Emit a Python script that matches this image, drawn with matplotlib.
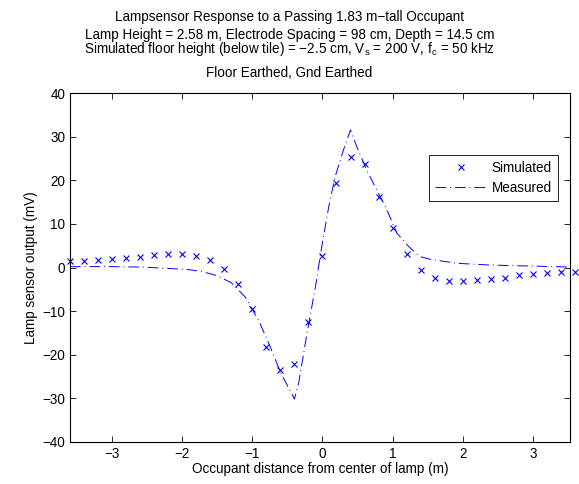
import numpy as np
import matplotlib
matplotlib.use('Agg')
import matplotlib.pyplot as plt

plt.rcParams['font.family'] = ['Liberation Sans', 'DejaVu Sans']
plt.rcParams['axes.unicode_minus'] = True

# Simulated lamp sensor output (every 0.2 m)
sim_x = [-3.6, -3.4, -3.2, -3.0, -2.8, -2.6, -2.4, -2.2, -2.0, -1.8, -1.6, -1.4, -1.2,
         -1.0, -0.8, -0.6, -0.4, -0.2, 0.0, 0.2, 0.4, 0.6, 0.8, 1.0, 1.2, 1.4, 1.6,
         1.8, 2.0, 2.2, 2.4, 2.6, 2.8, 3.0, 3.2, 3.4, 3.6]
sim_y = [1.5, 1.5, 1.7, 1.9, 2.1, 2.3, 2.8, 3.0, 3.0, 2.6, 1.7, -0.3, -3.9,
         -9.5, -18.3, -23.5, -22.2, -12.4, 2.6, 19.5, 25.4, 23.8, 16.3, 9.0, 3.0, -0.6, -2.5,
         -3.1, -3.2, -2.9, -2.6, -2.3, -1.8, -1.6, -1.3, -1.0, -1.0]

# Measured lamp sensor output
meas_x = [-3.6, -3.0, -2.6, -2.2, -1.9, -1.7, -1.5, -1.3, -1.1, -0.9, -0.75, -0.6, -0.4,
          -0.34, -0.22, -0.1, -0.01, 0.09, 0.18, 0.3, 0.4, 0.49, 0.63, 0.8, 0.92, 1.06,
          1.13, 1.23, 1.39, 1.53, 1.92, 2.39, 2.77, 3.2, 3.53]
meas_y = [0.2, 0.2, 0.1, -0.2, -0.5, -1.0, -1.9, -3.5, -6.8, -12.5, -18.0, -24.0, -30.2,
          -26.6, -15.1, -4.4, 4.8, 14.0, 20.8, 27.0, 31.6, 27.7, 22.4, 17.0, 13.2, 7.9,
          6.7, 4.8, 2.5, 1.9, 0.96, 0.57, 0.4, 0.25, 0.1]

title_lines = ['Lampsensor Response to a Passing 1.83 m\u2212tall Occupant',
               'Lamp Height = 2.58 m, Electrode Spacing = 98 cm, Depth = 14.5 cm',
               'Simulated floor height (below tile) = \u22122.5 cm, V$_{\\mathregular{s}}$ = 200 V, f$_{\\mathregular{c}}$ = 50 kHz',
               'Floor Earthed, Gnd Earthed']

fs = 9.75
fig = plt.figure(figsize=(5.79, 4.84), dpi=100)
ax = fig.add_axes([70 / 579, 1 - 441.7 / 484, 500 / 579, 348.4 / 484])

ax.plot(sim_x, sim_y, 'bx', markersize=4.8, markeredgewidth=0.8, label='Simulated', clip_on=False)
ax.plot(meas_x, meas_y, color='b', linestyle=(0, (11, 4, 1, 4)), linewidth=0.7, label='Measured')

ax.set_xlim(-3.6, 3.53)
ax.set_ylim(-40, 40)
ax.set_xticks([-3, -2, -1, 0, 1, 2, 3])
ax.set_yticks(np.arange(-40, 41, 10))
ax.tick_params(direction='in', top=True, right=True, length=4, width=0.6, labelsize=fs)
for s in ax.spines.values():
    s.set_linewidth(0.8)

ax.set_xlabel('Occupant distance from center of lamp (m)', fontsize=fs, labelpad=1)
ax.set_ylabel('Lamp sensor output (mV)', fontsize=fs, labelpad=3)

# title lines placed individually (uneven spacing as in the original)
title_y = [17.5, 34.5, 49.5, 73]
for t, yy in zip(title_lines, title_y):
    fig.text(0.5, 1 - yy / 484, t, ha='center', va='center', fontsize=fs)

leg = ax.legend(loc='upper right', bbox_to_anchor=(0.976, 0.823), fontsize=fs,
                fancybox=False, framealpha=1, edgecolor='black', handlelength=3.9,
                borderpad=0.45, labelspacing=0.45, handletextpad=0.3, borderaxespad=0)
leg.get_frame().set_linewidth(0.6)

fig.savefig('out.png', dpi=100)
